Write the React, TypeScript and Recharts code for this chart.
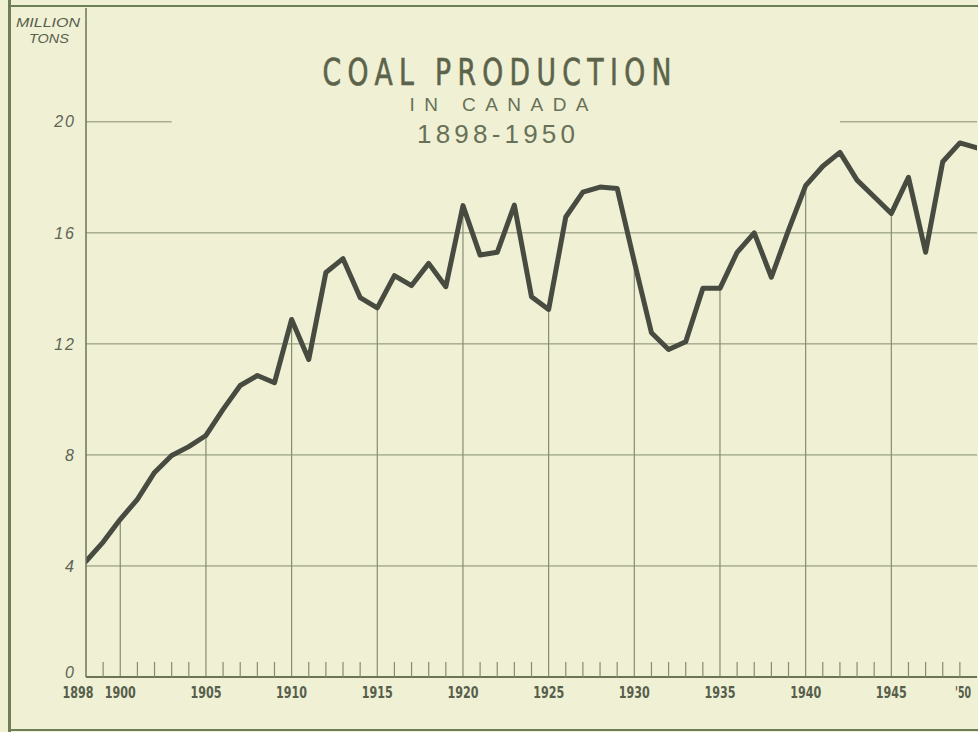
import React from 'react';
import { LineChart, Line, XAxis, YAxis, ReferenceLine } from 'recharts';

const years = [
  1898, 1899, 1900, 1901, 1902, 1903, 1904, 1905, 1906, 1907, 1908, 1909,
  1910, 1911, 1912, 1913, 1914, 1915, 1916, 1917, 1918, 1919,
  1920, 1921, 1922, 1923, 1924, 1925, 1926, 1927, 1928, 1929,
  1930, 1931, 1932, 1933, 1934, 1935, 1936, 1937, 1938, 1939,
  1940, 1941, 1942, 1943, 1944, 1945, 1946, 1947, 1948, 1949, 1950,
];

// million tons
const production = [
  4.17, 4.86, 5.68, 6.4, 7.37, 7.98, 8.3, 8.7, 9.64, 10.5, 10.86, 10.6,
  12.88, 11.44, 14.57, 15.07, 13.67, 13.3, 14.46, 14.1, 14.9, 14.06,
  16.98, 15.2, 15.3, 17.0, 13.7, 13.24, 16.57, 17.47, 17.65, 17.6,
  14.96, 12.4, 11.8, 12.08, 14.0, 14.0, 15.3, 16.0, 14.4, 16.1,
  17.7, 18.4, 18.9, 17.9, 17.3, 16.7, 18.0, 15.3, 18.56, 19.24, 19.06,
];

const yTicks = [0, 4, 8, 12, 16, 20];
const fullGridValues = [4, 8, 12, 16];
const majorYears = [1900, 1905, 1910, 1915, 1920, 1925, 1930, 1935, 1940, 1945];
const labelYears = [1898, 1900, 1905, 1910, 1915, 1920, 1925, 1930, 1935, 1940, 1945, 1950];
const labelTexts = ['1898', '1900', '1905', '1910', '1915', '1920', '1925', '1930', '1935', '1940', '1945', "'50"];
const topGridSegments = [
  [1898, 1903],
  [1942, 1950],
];
const topGridValue = 20;

const data = years.map((year, i) => ({ year, value: production[i] }));
const valueOf = (yr: number) => production[years.indexOf(yr)];

const BG = '#eff0d4';
const GRID = '#858d70';
const AXIS = '#6c7458';
const INK = '#474b40';
const TEXT = '#575e4b';
const FRAME = '#6e7e56';

const XTick = (props: any) => {
  const { x, y, payload } = props;
  const yr = payload.value as number;
  const idx = labelYears.indexOf(yr);
  const isMajor = majorYears.includes(yr) || yr === years[0];
  const isLast = idx === labelYears.length - 1;
  let dx = 0;
  if (idx === 0) dx = -8;
  if (isLast) dx = -22;
  return (
    <g>
      {!isMajor && yr !== years[years.length - 1] && (
        <line x1={x} x2={x} y1={y} y2={y - 15} stroke={GRID} strokeWidth={1.2} />
      )}
      {idx >= 0 && (
        <text
          x={x + dx}
          y={y + 21}
          textAnchor={isLast ? 'start' : 'middle'}
          fontFamily="'Liberation Sans Narrow', 'DejaVu Sans Condensed', 'Liberation Sans', sans-serif"
          fontWeight="bold"
          fontSize={16}
          fill={TEXT}
          textLength={isLast ? 16 : 31}
          lengthAdjust="spacingAndGlyphs"
        >
          {labelTexts[idx]}
        </text>
      )}
    </g>
  );
};

const YTick = (props: any) => {
  const { x, y, payload } = props;
  const v = payload.value as number;
  return (
    <text
      x={x}
      y={v === 0 ? y - 5 : y}
      dy="0.355em"
      textAnchor="end"
      fontStyle="italic"
      fontSize={16}
      letterSpacing={2}
      fill="#5e6456"
      fontFamily="'Liberation Sans', Arial, sans-serif"
    >
      {v}
    </text>
  );
};

export default function App() {
  return (
    <div
      style={{
        position: 'absolute',
        left: 0,
        top: 0,
        width: 978,
        height: 732,
        background: BG,
        overflow: 'hidden',
      }}
    >
      <LineChart
        width={978}
        height={732}
        data={data}
        margin={{ top: 8, right: 1, left: 0, bottom: 0 }}
      >
        <XAxis
          dataKey="year"
          type="number"
          domain={[1898, 1950]}
          ticks={years}
          interval={0}
          tick={XTick}
          tickLine={false}
          tickSize={0}
          tickMargin={0}
          axisLine={{ stroke: AXIS, strokeWidth: 2 }}
          height={55}
          allowDataOverflow
        />
        <YAxis
          type="number"
          domain={[0, 24.1]}
          ticks={yTicks}
          interval={0}
          width={86}
          tickLine={false}
          tickSize={0}
          tickMargin={10}
          axisLine={{ stroke: AXIS, strokeWidth: 1.5 }}
          tick={YTick}
          allowDataOverflow
        />
        {fullGridValues.map((v) => (
          <ReferenceLine key={`h${v}`} y={v} stroke={GRID} strokeWidth={1} />
        ))}
        {topGridSegments.map((s, i) => (
          <ReferenceLine
            key={`t${i}`}
            segment={[
              { x: s[0], y: topGridValue },
              { x: s[1], y: topGridValue },
            ]}
            stroke={GRID}
            strokeWidth={1}
          />
        ))}
        {majorYears.map((yr) => (
          <ReferenceLine
            key={`v${yr}`}
            segment={[
              { x: yr, y: 0 },
              { x: yr, y: valueOf(yr) },
            ]}
            stroke={GRID}
            strokeWidth={1.2}
          />
        ))}
        <Line
          type="linear"
          dataKey="value"
          stroke={INK}
          strokeWidth={5}
          strokeLinejoin="round"
          strokeLinecap="round"
          dot={false}
          activeDot={false}
          isAnimationActive={false}
        />
      </LineChart>
      <svg
        width={978}
        height={732}
        style={{ position: 'absolute', left: 0, top: 0, pointerEvents: 'none' }}
      >
        <line x1={9.5} x2={9.5} y1={0} y2={732} stroke={FRAME} strokeWidth={3} />
        <line x1={9} x2={978} y1={6} y2={6} stroke={FRAME} strokeWidth={2} />
        <line x1={9} x2={978} y1={730} y2={730} stroke={FRAME} strokeWidth={2} />
        <text
          x={48}
          y={27}
          textAnchor="middle"
          fontFamily="'Liberation Sans', Arial, sans-serif"
          fontStyle="italic"
          fontSize={13}
          fill={TEXT}
          textLength={64}
          lengthAdjust="spacingAndGlyphs"
        >
          MILLION
        </text>
        <text
          x={49}
          y={43}
          textAnchor="middle"
          fontFamily="'Liberation Sans', Arial, sans-serif"
          fontStyle="italic"
          fontSize={13}
          fill={TEXT}
          textLength={40}
          lengthAdjust="spacingAndGlyphs"
        >
          TONS
        </text>
        <g transform="translate(497,85) scale(0.8,1)">
          <text
            x={0}
            y={0}
            textAnchor="middle"
            fontFamily="'Liberation Sans Narrow', 'DejaVu Sans Condensed', 'Liberation Sans', sans-serif"
            fontSize={37}
            fill="#5c634b"
            stroke="#5c634b"
            strokeWidth={0.6}
            textLength={436}
            lengthAdjust="spacing"
          >
            COAL PRODUCTION
          </text>
        </g>
        <text
          x={499}
          y={111}
          textAnchor="middle"
          fontFamily="'Liberation Sans', Arial, sans-serif"
          fontSize={19}
          fill="#687058"
          textLength={179}
          lengthAdjust="spacing"
        >
          IN CANADA
        </text>
        <text
          x={496}
          y={143}
          textAnchor="middle"
          fontFamily="'Liberation Sans', Arial, sans-serif"
          fontSize={26}
          fill="#687058"
          textLength={158}
          lengthAdjust="spacing"
        >
          1898-1950
        </text>
      </svg>
    </div>
  );
}
